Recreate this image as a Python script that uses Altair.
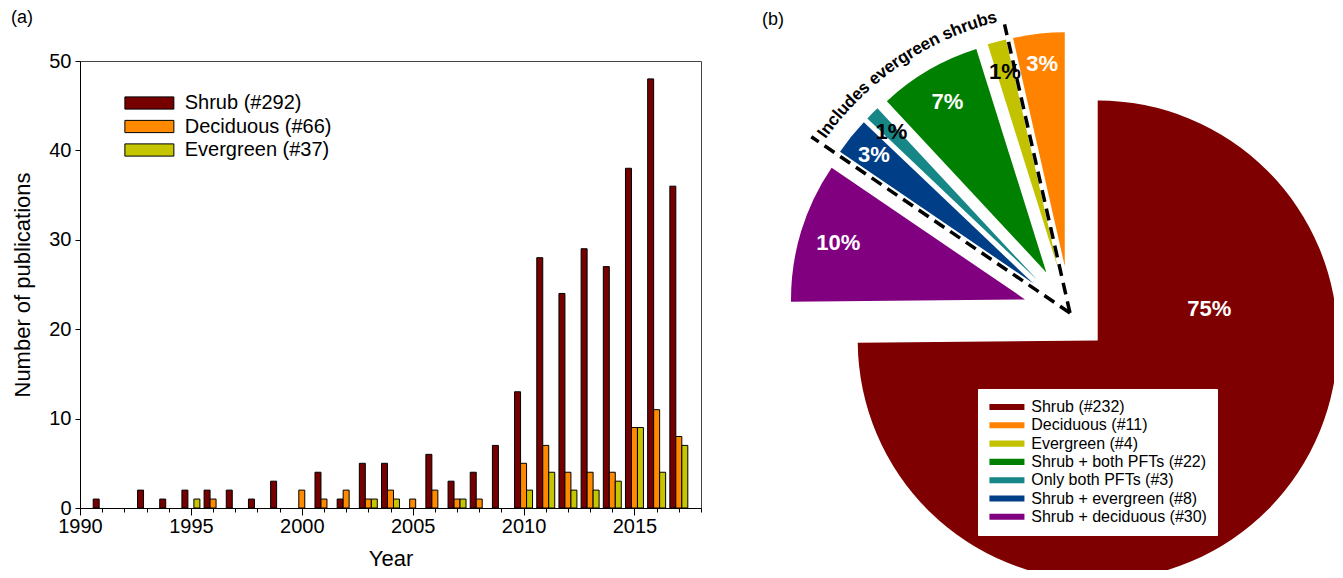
import math
import altair as alt
import pandas as pd

FONT = "Liberation Sans"

# ---------------- Panel (a): publications per year ----------------
years = list(range(1990, 2018))
shrub = [0, 1, 0, 2, 1, 2, 2, 2, 1, 3, 0, 4, 1, 5, 5, 0, 6, 3, 4, 7, 13, 28, 24, 29, 27, 38, 48, 36]
decid = [0, 0, 0, 0, 0, 0, 1, 0, 0, 0, 2, 1, 2, 1, 2, 1, 2, 1, 1, 0, 5, 7, 4, 4, 4, 9, 11, 8]
everg = [0, 0, 0, 0, 0, 1, 0, 0, 0, 0, 0, 0, 0, 1, 1, 0, 0, 1, 0, 0, 2, 4, 2, 2, 3, 9, 4, 7]
series_names = ["Shrub (#292)", "Deciduous (#66)", "Evergreen (#37)"]
bar_colors = ["#760000", "#ff8a00", "#c6c600"]
x_ticks = list(range(1990, 2019))
y_ticks = [0, 10, 20, 30, 40, 50]

# ---------------- Panel (b): exploded pie ----------------
pie_names = ["Shrub (#232)", "Deciduous (#11)", "Evergreen (#4)", "Shrub + both PFTs (#22)",
             "Only both PFTs (#3)", "Shrub + evergreen (#8)", "Shrub + deciduous (#30)"]
pie_counts = [232, 11, 4, 22, 3, 8, 30]
pie_colors = ["#7f0000", "#ff8200", "#c2c200", "#008000", "#168686", "#003f87", "#800080"]
pie_labels = ["75%", "3%", "1%", "7%", "1%", "3%", "10%"]
pie_label_colors = ["white", "white", "black", "white", "black", "white", "white"]
pie_explode = [39, 47, 47, 47, 47, 47, 47]
pie_label_radius = [116, 204, 203, 197, 207, 205, 195]
pie_label_pos = [0.275, 0.5, 0.5, 0.5, 0.5, 0.5, 0.5]
clockwise_order = [0, 6, 5, 4, 3, 2, 1]
arc_text = "Includes evergreen shrubs"
arc_text_size = 17
arc_text_radius = 305
# Arial Bold advance widths (em)
char_w = {"I": 0.278, "n": 0.611, "c": 0.556, "l": 0.278, "u": 0.611, "d": 0.611, "e": 0.556,
          "s": 0.556, " ": 0.278, "v": 0.556, "r": 0.389, "g": 0.611, "h": 0.611, "b": 0.611}
dash_lengths = [313, 296]

# ---------- build bar table ----------
bar_w = 0.27
rows = []
for i, (name, vals) in enumerate(zip(series_names, [shrub, decid, everg])):
    for yr, v in zip(years, vals):
        if v > 0:
            x0 = yr + (i - 1.5) * bar_w
            rows.append(dict(series=name, year=yr, n=v, x0=x0, x1=x0 + bar_w))
bar_df = pd.DataFrame(rows)

bar_legend = alt.Legend(
    orient="none", legendX=41, legendY=32, padding=0,
    symbolType="M-1,-1L7,-1L7,1L-1,1Z", symbolSize=150,
    symbolStrokeColor="black", symbolStrokeWidth=1, symbolOpacity=1,
    labelFontSize=20, labelFont=FONT, labelColor="black", labelOffset=43.75,
    rowPadding=3.5, labelLimit=400,
)

bars = alt.Chart(bar_df).mark_bar(stroke="black", strokeWidth=1, opacity=1).encode(
    x=alt.X("x0:Q", scale=alt.Scale(domain=[1990, 2018], nice=False, zero=False),
            axis=alt.Axis(values=x_ticks, format="d",
                          labelExpr="datum.value % 5 === 0 ? datum.label : ''",
                          tickSize={"condition": {"test": "datum.value % 5 === 0", "value": 7}, "value": 4},
                          labelFontSize=20, labelFont=FONT, labelColor="black", labelPadding=1,
                          labelFlush=False, labelOverlap=False,
                          title="Year", titleFontSize=22, titleFont=FONT, titleFontWeight="normal",
                          titleColor="black", titlePadding=12,
                          domainColor="black", tickColor="black", grid=False)),
    x2="x1:Q",
    y=alt.Y("n:Q", scale=alt.Scale(domain=[0, 50], nice=False),
            axis=alt.Axis(values=y_ticks, tickSize=5, labelFontSize=20, labelFont=FONT,
                          labelColor="black", labelPadding=4,
                          title="Number of publications", titleFontSize=22, titleFont=FONT,
                          titleFontWeight="normal", titleColor="black", titlePadding=14,
                          domainColor="black", tickColor="black", grid=False)),
    y2=alt.datum(0),
    color=alt.Color("series:N", scale=alt.Scale(domain=series_names, range=bar_colors),
                    legend=bar_legend, title=None),
).properties(
    width=621, height=447,
    title=alt.TitleParams("(a)", anchor="start", frame="group", dx=-69, offset=24,
                          fontSize=18, font=FONT, fontWeight="normal", color="black"),
    view=alt.ViewBackground(stroke="#444444", strokeWidth=1),
)

# ---------- build pie tables ----------
total = sum(pie_counts)
spans = {}
acc = 0.0
for k in clockwise_order:
    deg = pie_counts[k] / total * 360.0
    spans[k] = (acc, acc + deg)
    acc += deg

pie_rows = []
for k, name in enumerate(pie_names):
    t0, t1 = spans[k]
    mid = (t0 + t1) / 2
    e = pie_explode[k]
    pie_rows.append(dict(
        k=k, name=name, t0=t0, t1=t1,
        ox=e * math.sin(math.radians(mid)), oy=-e * math.cos(math.radians(mid)),
        tl=t0 + pie_label_pos[k] * (t1 - t0), rl=pie_label_radius[k],
        label=pie_labels[k], lcolor=pie_label_colors[k],
    ))
pie_df = pd.DataFrame(pie_rows)

# dashed boundaries of the "includes evergreen shrubs" group
b_low = spans[5][0]   # between shrub+deciduous and shrub+evergreen
b_high = spans[1][0]  # between evergreen and deciduous
dash_rows = []
for b, L in zip([b_low, b_high], dash_lengths):
    dash_rows.append(dict(x0=0.0, y0=0.0,
                          x1=L * math.sin(math.radians(b)), y1=-L * math.cos(math.radians(b))))
dash_df = pd.DataFrame(dash_rows)

# curved text between the dashed lines
widths = [char_w.get(c, 0.556) * arc_text_size for c in arc_text]
total_w = sum(widths)
span_deg = math.degrees(total_w / arc_text_radius)
center_b = (b_low + b_high) / 2
start_b = center_b - span_deg / 2
txt_rows = []
cum = 0.0
for c, w in zip(arc_text, widths):
    pos = cum + w / 2
    bdeg = start_b + math.degrees(pos / arc_text_radius)
    txt_rows.append(dict(ch=c, ox=0.0, oy=0.0, tb=bdeg, rb=arc_text_radius, ang=bdeg % 360))
    cum += w
txt_df = pd.DataFrame(txt_rows)

xs = alt.Scale(domain=[-308, 264], nice=False, zero=False)
ys = alt.Scale(domain=[-252, 257], nice=False, zero=False, reverse=True)
ts = alt.Scale(domain=[0, 360], range=[0, 2 * math.pi])

pie_legend = alt.Legend(
    orient="none", legendX=216, legendY=328, padding=10,
    fillColor="white", strokeColor="white",
    symbolType="M-1.5,-0.7L6.5,-0.7L6.5,0.7L-1.5,0.7Z", symbolSize=76.5625,
    symbolStrokeWidth=0, symbolOpacity=1,
    labelFontSize=16, labelFont=FONT, labelColor="black", labelOffset=27.25,
    rowPadding=2.3, labelLimit=400,
)

pie_color = alt.Color("name:N", scale=alt.Scale(domain=pie_names, range=pie_colors),
                      legend=pie_legend, title=None)

pie_base = alt.Chart(pie_df)
arc_enc = dict(
    x=alt.X("ox:Q", scale=xs, axis=None),
    y=alt.Y("oy:Q", scale=ys, axis=None),
    theta=alt.Theta("t0:Q", scale=ts, stack=False),
    theta2="t1:Q",
    color=pie_color,
)
shrub_arc = pie_base.transform_filter("datum.k == 0").mark_arc(radius=240, clip=True).encode(**arc_enc)
other_arcs = pie_base.transform_filter("datum.k > 0").mark_arc(radius=234).encode(**arc_enc)

dashes = alt.Chart(dash_df).mark_rule(color="black", strokeWidth=3.5, strokeDash=[12, 7]).encode(
    x=alt.X("x0:Q", scale=xs, axis=None), y=alt.Y("y0:Q", scale=ys, axis=None),
    x2="x1:Q", y2="y1:Q",
)

pct = pie_base.mark_text(font=FONT, fontSize=22, fontWeight="bold", align="center", baseline="middle").encode(
    x=alt.X("ox:Q", scale=xs, axis=None), y=alt.Y("oy:Q", scale=ys, axis=None),
    theta=alt.Theta("tl:Q", scale=ts),
    radius=alt.Radius("rl:Q", scale=None),
    text="label:N",
    color=alt.Color("lcolor:N", scale=None),
)

curved = alt.Chart(txt_df).mark_text(font=FONT, fontSize=arc_text_size, fontWeight="bold",
                                     align="center", baseline="middle", color="black").encode(
    x=alt.X("ox:Q", scale=xs, axis=None), y=alt.Y("oy:Q", scale=ys, axis=None),
    theta=alt.Theta("tb:Q", scale=ts),
    radius=alt.Radius("rb:Q", scale=None),
    angle=alt.Angle("ang:Q", scale=None),
    text="ch:N",
)

pie = alt.layer(shrub_arc, other_arcs, dashes, pct, curved).properties(
    width=572, height=509,
    title=alt.TitleParams("(b)", anchor="start", frame="group", dx=0, offset=-21,
                          fontSize=18, font=FONT, fontWeight="normal", color="black"),
    view=alt.ViewBackground(strokeOpacity=0),
)

chart = alt.hconcat(bars, pie, spacing=60).resolve_scale(
    color="independent"
).resolve_legend(color="independent").properties(
    padding={"left": 2, "top": 0, "right": 0, "bottom": 0},
    background="white",
).configure(font=FONT)

chart.save("out.html", embed_options={"renderer": "svg", "actions": False})
